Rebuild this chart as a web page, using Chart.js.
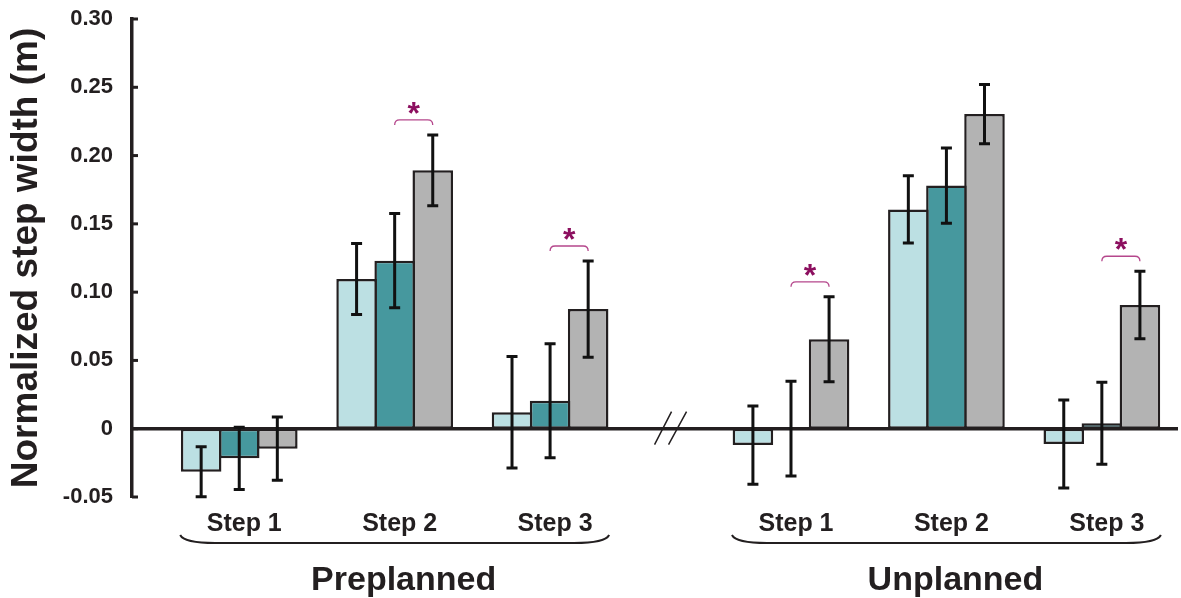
<!DOCTYPE html>
<html>
<head>
<meta charset="utf-8">
<script src="https://cdn.jsdelivr.net/npm/chart.js@4.4.1/dist/chart.umd.min.js"></script>
<style>
  html, body { margin: 0; padding: 0; background: #fff; }
  #wrap { width: 1181px; height: 598px; }
</style>
</head>
<body>
<div id="wrap"><canvas id="myChart"></canvas></div>
<script>
// ==== data ====
const groups = ['Preplanned', 'Unplanned'];
const steps = ['Step 1', 'Step 2', 'Step 3'];
const seriesNames = ['Condition 1', 'Condition 2', 'Condition 3'];

// order: Preplanned step 1..3, Unplanned step 1..3
const lightMean = [-0.0315, 0.1096, 0.0120, -0.0120, 0.1606, -0.0112];
const lightSd   = [ 0.0183, 0.0260, 0.0408,  0.0287, 0.0247,  0.0323];
const tealMean  = [-0.0217, 0.1230, 0.0205,  0.0000, 0.1780,  0.0040];
const tealSd    = [ 0.0228, 0.0345, 0.0418,  0.0347, 0.0275,  0.0300];
const grayMean  = [-0.0146, 0.1892, 0.0876,  0.0655, 0.2304,  0.0906];
const graySd    = [ 0.0232, 0.0259, 0.0352,  0.0311, 0.0217,  0.0247];
const significant = [false, true, true, true, false, true];

const yTicks = [-0.05, 0, 0.05, 0.10, 0.15, 0.20, 0.25, 0.30];

const FONT = '"Liberation Sans", Arial, sans-serif';
const INK = '#231f20';
const GROUP_GAP = 3.55;   // distance between first steps of the two groups

// x position of each bar group
const xPos = [];
groups.forEach((g, gi) => {
    steps.forEach((s, si) => xPos.push(gi * GROUP_GAP + si));
});

const means = [lightMean, tealMean, grayMean];
const sds = [lightSd, tealSd, graySd];
const colors = ['#bce0e3', '#46989e', '#b3b3b3'];

const datasets = means.map((m, i) => ({
    label: seriesNames[i],
    data: m.map((v, j) => ({ x: xPos[j], y: v })),
    backgroundColor: colors[i],
    borderColor: INK,
    borderWidth: 2.5,
    borderSkipped: false,
    categoryPercentage: 0.735,
    barPercentage: 1.065
}));

// ==== error bars, zero line, significance marks ====
const overlayPlugin = {
    id: 'overlay',
    afterDatasetsDraw(chart) {
        const ctx = chart.ctx;
        const y = chart.scales.y;
        const x = chart.scales.x;
        const area = chart.chartArea;
        const y0 = y.getPixelForValue(0);

        ctx.save();
        // zero line
        ctx.strokeStyle = INK;
        ctx.lineWidth = 3.5;
        ctx.beginPath();
        ctx.moveTo(area.left, y0);
        ctx.lineTo(area.right, y0);
        ctx.stroke();

        // axis break
        const bx = x.getPixelForValue((xPos[2] + xPos[3]) / 2);
        ctx.lineWidth = 1.5;
        ctx.beginPath();
        ctx.moveTo(bx - 16, y0 + 16); ctx.lineTo(bx + 1, y0 - 17);
        ctx.moveTo(bx - 2, y0 + 16); ctx.lineTo(bx + 16, y0 - 17);
        ctx.stroke();

        // error bars
        ctx.lineWidth = 3;
        ctx.strokeStyle = '#111';
        means.forEach((m, i) => {
            const meta = chart.getDatasetMeta(i);
            m.forEach((v, j) => {
                const cx = meta.data[j].x;
                const top = y.getPixelForValue(v + sds[i][j]);
                const bot = y.getPixelForValue(v - sds[i][j]);
                ctx.beginPath();
                ctx.moveTo(cx, top); ctx.lineTo(cx, bot);
                ctx.moveTo(cx - 5.5, top); ctx.lineTo(cx + 5.5, top);
                ctx.moveTo(cx - 5.5, bot); ctx.lineTo(cx + 5.5, bot);
                ctx.stroke();
            });
        });

        // significance brackets between 2nd and 3rd series
        significant.forEach((sig, j) => {
            if (!sig) return;
            const x1 = chart.getDatasetMeta(1).data[j].x;
            const x2 = chart.getDatasetMeta(2).data[j].x;
            const hi = Math.max(tealMean[j] + tealSd[j], grayMean[j] + graySd[j]);
            const by = y.getPixelForValue(hi) - 15;
            ctx.strokeStyle = '#b5478c';
            ctx.lineWidth = 1.3;
            ctx.beginPath();
            ctx.moveTo(x1, by + 5);
            ctx.quadraticCurveTo(x1, by, x1 + 5, by);
            ctx.lineTo(x2 - 5, by);
            ctx.quadraticCurveTo(x2, by, x2, by + 5);
            ctx.stroke();
            ctx.fillStyle = '#8c0f5f';
            ctx.font = 'bold 32px ' + FONT;
            ctx.textAlign = 'center';
            ctx.textBaseline = 'alphabetic';
            ctx.fillText('*', (x1 + x2) / 2, by + 4);
        });
        ctx.restore();
    },
    afterDraw(chart) {
        const ctx = chart.ctx;
        const y = chart.scales.y;
        const x = chart.scales.x;
        const area = chart.chartArea;
        ctx.save();

        // inward tick marks
        ctx.strokeStyle = INK;
        ctx.lineWidth = 3;
        y.ticks.forEach(t => {
            const py = y.getPixelForValue(t.value);
            ctx.beginPath();
            ctx.moveTo(area.left, py);
            ctx.lineTo(area.left + 6, py);
            ctx.stroke();
        });

        // step labels
        ctx.fillStyle = INK;
        ctx.textAlign = 'center';
        ctx.textBaseline = 'alphabetic';
        ctx.font = 'bold 25px ' + FONT;
        xPos.forEach((p, j) => {
            ctx.fillText(steps[j % steps.length], x.getPixelForValue(p) + 5, area.bottom + 34);
        });

        // braces and group labels
        groups.forEach((g, gi) => {
            const first = xPos[gi * steps.length];
            const last = xPos[gi * steps.length + steps.length - 1];
            const x1 = x.getPixelForValue(first - 0.38);
            const x2 = x.getPixelForValue(last + 0.38);
            const yEnd = area.bottom + 38;
            const yFlat = area.bottom + 46;
            ctx.lineWidth = 2;
            ctx.beginPath();
            ctx.moveTo(x1, yEnd);
            ctx.quadraticCurveTo(x1 + 4, yFlat, x1 + 35, yFlat);
            ctx.lineTo(x2 - 35, yFlat);
            ctx.quadraticCurveTo(x2 - 4, yFlat, x2, yEnd);
            ctx.stroke();

            ctx.font = 'bold 34px ' + FONT;
            ctx.fillText(g, (x1 + x2) / 2 + 9, area.bottom + 93);
        });
        ctx.restore();
    }
};

let myChart = new Chart(document.getElementById('myChart'), {
    type: 'bar',
    data: { datasets },
    options: {
        animation: false,
        responsive: true,
        maintainAspectRatio: false,
        layout: { padding: { top: 19, bottom: 101, right: 3, left: 0 } },
        plugins: {
            legend: { display: false },
            tooltip: { enabled: false }
        },
        scales: {
            x: {
                type: 'linear', display: false, offset: false, min: -0.69, max: 6.04,
                afterBuildTicks: s => { s.ticks = xPos.map(v => ({ value: v })); }
            },
            y: {
                min: yTicks[0],
                max: yTicks[yTicks.length - 1],
                afterFit: s => { s.width = 132; },
                afterBuildTicks: s => { s.ticks = yTicks.map(v => ({ value: v })); },
                ticks: {
                    padding: 2,
                    color: INK,
                    font: { family: FONT, size: 22, weight: 'bold' },
                    callback: v => Math.abs(v) < 1e-9 ? '0' : v.toFixed(2)
                },
                grid: { display: false, drawTicks: true, tickLength: 17 },
                border: { display: true, color: INK, width: 3.5 },
                title: {
                    display: true,
                    text: 'Normalized step width (m)',
                    color: INK,
                    font: { family: FONT, size: 37, weight: 'bold' },
                    padding: { top: 5, bottom: 0 }
                }
            }
        }
    },
    plugins: [overlayPlugin]
});
</script>
</body>
</html>
